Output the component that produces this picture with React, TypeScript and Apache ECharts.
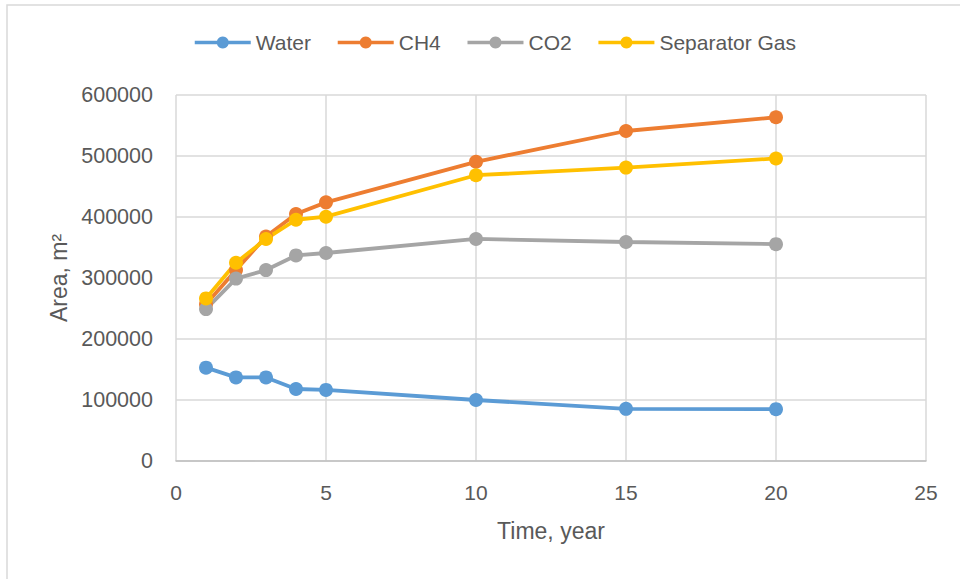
import React, { useEffect, useRef } from "react";
import * as echarts from "echarts";

const years = [1, 2, 3, 4, 5, 10, 15, 20];
const water = [153000, 137000, 137000, 118000, 116500, 100000, 85500, 85000];
const ch4 = [257000, 313000, 368000, 405000, 424000, 490500, 541000, 563500];
const co2 = [249000, 299000, 313000, 337000, 341000, 364000, 359000, 355500];
const sepGas = [266500, 325000, 364000, 395500, 400500, 468500, 481000, 496000];

const seriesNames = ["Water", "CH4", "CO2", "Separator Gas"];
const seriesColors = ["#5B9BD5", "#ED7D31", "#A5A5A5", "#FFC000"];
const seriesValues = [water, ch4, co2, sepGas];

const FONT = "'Liberation Sans', Arial, sans-serif";
const TEXT = "#595959";

export default function App() {
  const ref = useRef<HTMLDivElement>(null);
  useEffect(() => {
    if (!ref.current) return;
    const chart = echarts.init(ref.current, undefined, { renderer: "svg" });
    chart.setOption({
      animation: false,
      backgroundColor: "#ffffff",
      textStyle: { fontFamily: FONT, color: TEXT },
      graphic: [
        {
          type: "rect",
          shape: { x: 7, y: 5, width: 1200, height: 1000 },
          style: { fill: "none", stroke: "#d9d9d9", lineWidth: 1.5 },
          silent: true,
          z: -10,
        },
      ],
      legend: {
        top: 32,
        left: 193,
        padding: 0,
        itemWidth: 56,
        itemHeight: 15,
        itemGap: 25,
        lineStyle: { width: 3.5 },
        textStyle: { fontSize: 21, color: TEXT, fontFamily: FONT },
        data: seriesNames,
      },
      grid: { left: 176, right: 34, top: 95, bottom: 118, containLabel: false },
      xAxis: {
        type: "value",
        min: 0,
        max: 25,
        interval: 5,
        name: "Time, year",
        nameLocation: "middle",
        nameGap: 58,
        nameTextStyle: { fontSize: 23, color: TEXT, fontFamily: FONT },
        axisLine: { show: true, lineStyle: { color: "#bfbfbf", width: 1.5 } },
        axisTick: { show: false },
        axisLabel: { fontSize: 21, color: TEXT, margin: 21, fontFamily: FONT },
        splitLine: { show: true, lineStyle: { color: "#d9d9d9", width: 1.5 } },
      },
      yAxis: {
        type: "value",
        min: 0,
        max: 600000,
        interval: 100000,
        name: "Area, m²",
        nameLocation: "middle",
        nameGap: 106,
        nameTextStyle: { fontSize: 23, color: TEXT, fontFamily: FONT },
        axisLine: { show: false },
        axisTick: { show: false },
        axisLabel: {
          fontSize: 21.5,
          color: TEXT,
          margin: 23,
          fontFamily: FONT,
          formatter: (v: number) => String(v),
        },
        splitLine: { show: true, lineStyle: { color: "#d9d9d9", width: 1.5 } },
      },
      series: seriesNames.map((name, i) => ({
        name,
        type: "line",
        data: years.map((x, j) => [x, seriesValues[i][j]]),
        symbol: "circle",
        symbolSize: 14,
        lineStyle: { color: seriesColors[i], width: 3.8 },
        itemStyle: { color: seriesColors[i] },
        emphasis: { disabled: true },
      })),
    });
    return () => chart.dispose();
  }, []);
  return <div ref={ref} style={{ width: 960, height: 579, position: "absolute", left: 0, top: 0 }} />;
}
